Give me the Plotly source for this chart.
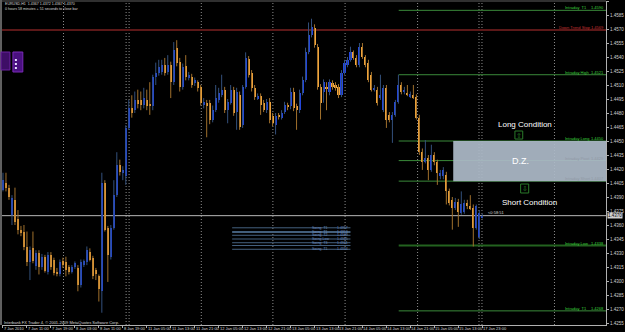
import plotly.graph_objects as go

# ---------------- data (EURUSD, H1) ----------------
open_ = [1.4398,1.4405,1.4400,1.4371,1.4387,1.4366,1.4355,1.4352,1.4336,1.4320,
         1.4335,1.4316,1.4330,1.4315,1.4326,1.4310,1.4328,1.4322,1.4310,1.4307,
         1.4321,1.4320,1.4315,1.4310,1.4315,1.4314,1.4296,1.4317,1.4320,1.4331,
         1.4325,1.4312,1.4305,1.4289,1.4405,1.4357,1.4326,1.4357,1.4392,1.4424,
         1.4416,1.4412,1.4464,1.4485,1.4483,1.4494,1.4494,1.4489,1.4494,1.4490,
         1.4487,1.4519,1.4523,1.4524,1.4531,1.4524,1.4531,1.4513,1.4550,1.4535,
         1.4508,1.4530,1.4518,1.4519,1.4512,1.4513,1.4508,1.4489,1.4491,1.4491,
         1.4473,1.4483,1.4494,1.4499,1.4505,1.4483,1.4491,1.4505,1.4481,1.4499,
         1.4467,1.4508,1.4538,1.4523,1.4507,1.4496,1.4498,1.4491,1.4483,1.4492,
         1.4477,1.4467,1.4477,1.4475,1.4481,1.4488,1.4487,1.4503,1.4487,1.4483,
         1.4501,1.4515,1.4545,1.4564,1.4571,1.4551,1.4508,1.4503,1.4508,1.4503,
         1.4512,1.4510,1.4508,1.4499,1.4523,1.4531,1.4537,1.4545,1.4539,1.4531,
         1.4551,1.4540,1.4534,1.4521,1.4505,1.4505,1.4496,1.4483,1.4507,1.4478,
         1.4473,1.4478,1.4492,1.4510,1.4503,1.4501,1.4498,1.4499,1.4497,1.4475,
         1.4438,1.4428,1.4432,1.4419,1.4435,1.4428,1.4412,1.4412,1.4414,1.4396,
         1.4387,1.4378,1.4385,1.4373,1.4374,1.4384,1.4380,1.4378,1.4357,1.4347,
         1.4367]
high = [1.4416,1.4416,1.4403,1.4392,1.4400,1.4376,1.4359,1.4360,1.4353,1.4337,
        1.4353,1.4333,1.4333,1.4329,1.4328,1.4331,1.4331,1.4325,1.4314,1.4323,
        1.4325,1.4326,1.4317,1.4317,1.4321,1.4317,1.4323,1.4323,1.4337,1.4335,
        1.4327,1.4314,1.4307,1.4416,1.4408,1.4359,1.4360,1.4408,1.4438,1.4430,
        1.4423,1.4467,1.4494,1.4499,1.4503,1.4505,1.4503,1.4507,1.4505,1.4513,
        1.4521,1.4534,1.4537,1.4537,1.4539,1.4542,1.4535,1.4556,1.4558,1.4539,
        1.4533,1.4542,1.4524,1.4522,1.4518,1.4515,1.4510,1.4496,1.4494,1.4494,
        1.4488,1.4510,1.4507,1.4521,1.4508,1.4495,1.4510,1.4508,1.4507,1.4503,
        1.4510,1.4545,1.4541,1.4526,1.4510,1.4501,1.4501,1.4494,1.4495,1.4496,
        1.4480,1.4480,1.4480,1.4483,1.4492,1.4491,1.4507,1.4507,1.4490,1.4505,
        1.4519,1.4550,1.4577,1.4581,1.4575,1.4554,1.4511,1.4516,1.4513,1.4516,
        1.4515,1.4513,1.4511,1.4526,1.4537,1.4540,1.4551,1.4547,1.4542,1.4555,
        1.4555,1.4542,1.4537,1.4524,1.4510,1.4508,1.4521,1.4510,1.4510,1.4481,
        1.4481,1.4494,1.4521,1.4513,1.4508,1.4510,1.4503,1.4510,1.4500,1.4478,
        1.4442,1.4451,1.4435,1.4446,1.4438,1.4430,1.4419,1.4422,1.4417,1.4399,
        1.4390,1.4389,1.4388,1.4396,1.4387,1.4387,1.4392,1.4382,1.4382,1.4376,
        1.4372]
low = [1.4396,1.4396,1.4387,1.4360,1.4360,1.4350,1.4348,1.4333,1.4316,1.4301,
       1.4319,1.4312,1.4307,1.4312,1.4309,1.4307,1.4312,1.4306,1.4305,1.4305,
       1.4314,1.4305,1.4307,1.4308,1.4313,1.4289,1.4293,1.4315,1.4317,1.4321,
       1.4302,1.4301,1.4278,1.4266,1.4353,1.4299,1.4323,1.4355,1.4390,1.4413,
       1.4408,1.4403,1.4462,1.4475,1.4480,1.4485,1.4483,1.4485,1.4483,1.4478,
       1.4483,1.4510,1.4520,1.4521,1.4520,1.4521,1.4496,1.4510,1.4530,1.4503,
       1.4505,1.4515,1.4515,1.4507,1.4509,1.4503,1.4488,1.4485,1.4454,1.4468,
       1.4470,1.4481,1.4491,1.4497,1.4480,1.4469,1.4489,1.4477,1.4462,1.4462,
       1.4464,1.4506,1.4518,1.4503,1.4494,1.4494,1.4478,1.4481,1.4480,1.4469,
       1.4466,1.4457,1.4473,1.4473,1.4479,1.4483,1.4484,1.4482,1.4462,1.4480,
       1.4499,1.4513,1.4543,1.4561,1.4550,1.4505,1.4473,1.4491,1.4483,1.4499,
       1.4505,1.4504,1.4496,1.4497,1.4521,1.4529,1.4535,1.4537,1.4529,1.4529,
       1.4538,1.4529,1.4513,1.4503,1.4503,1.4488,1.4494,1.4481,1.4464,1.4470,
       1.4448,1.4476,1.4490,1.4500,1.4500,1.4498,1.4496,1.4495,1.4473,1.4435,
       1.4419,1.4426,1.4408,1.4417,1.4424,1.4403,1.4409,1.4409,1.4382,1.4381,
       1.4355,1.4376,1.4358,1.4371,1.4372,1.4377,1.4376,1.4337,1.4355,1.4345,
       1.4367]
close = [1.4408,1.4400,1.4390,1.4389,1.4363,1.4355,1.4351,1.4336,1.4320,1.4333,
         1.4321,1.4330,1.4315,1.4326,1.4311,1.4328,1.4315,1.4309,1.4307,1.4320,
         1.4317,1.4312,1.4310,1.4315,1.4319,1.4296,1.4320,1.4321,1.4333,1.4323,
         1.4305,1.4307,1.4291,1.4405,1.4355,1.4328,1.4357,1.4392,1.4424,1.4417,
         1.4419,1.4464,1.4485,1.4480,1.4494,1.4490,1.4489,1.4496,1.4488,1.4487,
         1.4519,1.4523,1.4529,1.4531,1.4523,1.4531,1.4513,1.4547,1.4534,1.4508,
         1.4529,1.4519,1.4521,1.4510,1.4515,1.4507,1.4491,1.4492,1.4487,1.4473,
         1.4483,1.4496,1.4501,1.4505,1.4483,1.4492,1.4505,1.4480,1.4503,1.4465,
         1.4508,1.4539,1.4521,1.4507,1.4497,1.4498,1.4489,1.4483,1.4492,1.4473,
         1.4469,1.4477,1.4476,1.4480,1.4489,1.4487,1.4503,1.4485,1.4483,1.4501,
         1.4515,1.4545,1.4564,1.4572,1.4553,1.4508,1.4491,1.4513,1.4506,1.4513,
         1.4508,1.4507,1.4499,1.4523,1.4534,1.4537,1.4545,1.4539,1.4531,1.4551,
         1.4540,1.4531,1.4515,1.4505,1.4507,1.4491,1.4499,1.4507,1.4473,1.4473,
         1.4478,1.4492,1.4510,1.4503,1.4505,1.4500,1.4500,1.4497,1.4475,1.4438,
         1.4428,1.4432,1.4419,1.4435,1.4427,1.4416,1.4416,1.4419,1.4396,1.4384,
         1.4378,1.4385,1.4374,1.4382,1.4384,1.4380,1.4378,1.4357,1.4380,1.4373,
         1.4370]

time_labels = ["7 Jan 2010", "7 Jan 11:00", "7 Jan 19:00", "8 Jan 03:00", "8 Jan 11:00",
               "8 Jan 19:00", "11 Jan 05:00", "11 Jan 13:00", "11 Jan 21:00", "12 Jan 05:00",
               "12 Jan 13:00", "12 Jan 21:00", "13 Jan 05:00", "13 Jan 13:00", "13 Jan 21:00",
               "14 Jan 05:00", "14 Jan 13:00", "14 Jan 21:00", "15 Jan 05:00", "15 Jan 13:00",
               "17 Jan 23:00"]
time_label_bars = [8 * k for k in range(len(time_labels))]

price_ticks = [round(1.4255 + 0.0015 * k, 4) for k in range(24)]

level_names = ["Intraday  T1", "Down Trend Stop", "Intraday High", "Intraday Long",
               "Intraday Pivot", "Intraday Short", "Intraday Low", "Intraday  T1"]
level_values = [1.4590, 1.4569, 1.4521, 1.4450, 1.4429, 1.4407, 1.4338, 1.4268]

swing_names = ["Swing  T1", "Swing  T1", "Swing  T2", "Swing Low", "Swing  T3", "Swing  T1"]
swing_values = [1.4357, 1.4353, 1.4349, 1.4345, 1.4341, 1.4334]
swing_lines = [1.4357, 1.4353, 1.4352, 1.4349, 1.4345, 1.4341, 1.4338, 1.4334]

day_separators = [20.2, 41.1, 42.1, 66.2, 90.1, 114.2, 138.4, 158.9, 159.9, 184.1]

# ---------------- geometry ----------------
W, H = 625, 332
ML, MR, MT, MB = 2, 14, 1, 7
PW, PH = W - ML - MR, H - MT - MB
XMIN, XMAX = -0.33, 201.3
YMAX = 1.4600
YMIN = 1.4600 - 324 * 0.0015 / 14

def xp(px):
    return (px - ML) / PW

def yp(py):
    return 1 - (py - MT) / PH

UP_BODY, DN_BODY = "#2346e0", "#f2a53c"
UP_WICK, DN_WICK = "#33507c", "#a0702c"
GREEN = "#3a8a3a"
TXT = "#d8d8d8"
FONT = "Liberation Sans, Arial, sans-serif"

n = len(close)
idx = list(range(n))
up = [i for i in idx if close[i] >= open_[i]]
dn = [i for i in idx if close[i] < open_[i]]

fig = go.Figure()

def wick_trace(ids, color):
    xs, ys = [], []
    for i in ids:
        xs += [i, i, None]
        ys += [low[i], high[i], None]
    return go.Scatter(x=xs, y=ys, mode="lines", line=dict(color=color, width=1),
                      hoverinfo="skip", showlegend=False)

fig.add_trace(wick_trace(up, UP_WICK))
fig.add_trace(wick_trace(dn, DN_WICK))

def body_trace(ids, color):
    return go.Bar(x=ids,
                  y=[max(abs(close[i] - open_[i]), 0.00007) for i in ids],
                  base=[min(open_[i], close[i]) for i in ids],
                  width=0.68, marker=dict(color=color, line=dict(width=0)),
                  showlegend=False, hoverinfo="skip")

fig.add_trace(body_trace(up, UP_BODY))
fig.add_trace(body_trace(dn, DN_BODY))

shapes = []
for s in day_separators:
    shapes.append(dict(type="line", xref="x", yref="paper", x0=s, x1=s, y0=0, y1=1,
                       line=dict(color="#8c8c8c", width=1, dash="1px,2px"), layer="below"))

start_bar = 132.1
for name, v in zip(level_names, level_values):
    if name == "Down Trend Stop":
        shapes.append(dict(type="line", xref="x", yref="y", x0=XMIN, x1=XMAX, y0=v, y1=v,
                           line=dict(color="#5c1818", width=2), layer="below"))
    elif name == "Intraday Low":
        shapes.append(dict(type="line", xref="x", yref="y", x0=start_bar, x1=XMAX, y0=v, y1=v,
                           line=dict(color="#23621f", width=2), layer="below"))
    else:
        shapes.append(dict(type="line", xref="x", yref="y", x0=start_bar, x1=XMAX, y0=v, y1=v,
                           line=dict(color=GREEN, width=1), layer="below"))

shapes.append(dict(type="rect", xref="x", yref="y", x0=150.3, x1=XMAX,
                   y0=level_values[5], y1=level_values[3],
                   fillcolor="rgba(172,185,199,0.93)", line=dict(width=0), layer="above"))

shapes.append(dict(type="line", xref="x", yref="y", x0=XMIN, x1=XMAX, y0=close[-1], y1=close[-1],
                   line=dict(color="#b8b8b8", width=1), layer="below"))

for v in swing_lines:
    shapes.append(dict(type="line", xref="x", yref="y", x0=76.5, x1=116, y0=v, y1=v,
                       line=dict(color="#45617f", width=1), layer="below"))

shapes.append(dict(type="rect", xref="x", yref="y", x0=170.9, x1=173.5, y0=1.44521, y1=1.44607,
                   line=dict(color="#2a7a2a", width=1)))
shapes.append(dict(type="rect", xref="x", yref="y", x0=172.8, x1=175.5, y0=1.43943, y1=1.44039,
                   line=dict(color="#2a7a2a", width=1)))

shapes.append(dict(type="line", xref="paper", yref="paper", x0=xp(1), x1=xp(1), y0=0, y1=yp(0),
                   line=dict(color="#606060", width=2)))
shapes.append(dict(type="line", xref="paper", yref="paper", x0=xp(0), x1=1, y0=yp(1), y1=yp(1),
                   line=dict(color="#606060", width=1)))

shapes.append(dict(type="rect", xref="paper", yref="paper", x0=xp(1), x1=xp(10), y0=yp(70), y1=yp(52),
                   fillcolor="#3e0e66", line=dict(color="#6a20a0", width=1)))
shapes.append(dict(type="rect", xref="paper", yref="paper", x0=xp(13), x1=xp(23), y0=yp(72), y1=yp(52),
                   fillcolor="#4a1080", line=dict(color="#7a2ab8", width=1)))
for py in (60, 64, 68):
    shapes.append(dict(type="rect", xref="paper", yref="paper", x0=xp(15), x1=xp(17),
                       y0=yp(py + 1), y1=yp(py - 1), fillcolor="#e8e0ff", line=dict(width=0)))

ann = []
def A(text, x, y, xref="x", yref="y", size=5, color=TXT, xanchor="left", yanchor="middle", **kw):
    d = dict(text=text, x=x, y=y, xref=xref, yref=yref, showarrow=False,
             font=dict(family=FONT, size=size, color=color), xanchor=xanchor, yanchor=yanchor)
    d.update(kw)
    ann.append(d)

for b, t in zip(time_label_bars, time_labels):
    A(t, b, 0, yref="paper", yanchor="top", size=4, xshift=-1, yshift=1)

for name, v in zip(level_names, level_values):
    if name == "Down Trend Stop":
        A("Down Trend Stop %.4f" % v, 1, v, xref="paper", xanchor="right", yanchor="bottom",
          color="#c83030", size=4, yshift=-2)
    else:
        col = "#909aa6" if name in ("Intraday Pivot", "Intraday Short") else "#3cd23c"
        A(name, 187.0, v, yanchor="bottom", color=col, size=4, yshift=-2)
        A("%.4f" % v, 1, v, xref="paper", xanchor="right", yanchor="bottom", color=col, size=4, yshift=-2)

for name, v in zip(swing_names, swing_values):
    A(name, 102.6, v, color="#6a8cc0", yanchor="middle", size=3.5)
    A("%.4f" % v, 115.8, v, color="#6a8cc0", xanchor="right", yanchor="middle", size=3.5)

A("EURUSD,H1  %.4f %.4f %.4f %.4f" % (open_[-1], high[-1], low[-1], close[-1]),
  xp(3), yp(4.2), xref="paper", yref="paper", size=3.6)
A("0 hours 58 minutes + 51 seconds to close bar", xp(3), yp(8.8), xref="paper", yref="paper", size=3.6)
A("Interbank FX Trader 4, \u00a9 2001-2009 MetaQuotes Software Corp.", xp(2), yp(322),
  xref="paper", yref="paper", size=4)

A("Long Condition", 174.2, 1.44682, xanchor="center", size=8, color="#ffffff")
A("D.Z.", 172.8, 1.44286, xanchor="center", size=9, color="#ffffff")
A("Short Condition", 175.8, 1.43846, xanchor="center", size=8, color="#ffffff")
A("\u21e7", 172.2, 1.44564, xanchor="center", size=7, color="#2a8a2a")
A("\u21e9", 174.15, 1.43991, xanchor="center", size=7, color="#2a8a2a")

A("<0:58:51", 161.3, close[-1], yanchor="bottom", size=4, yshift=-1)

A("%.4f" % close[-1], 1, close[-1], xref="paper", xanchor="left", size=4.5, color="#000000",
  bgcolor="#d0d0d0", borderpad=0, xshift=1)

fig.update_layout(
    width=W, height=H,
    margin=dict(l=ML, r=MR, t=MT, b=MB, pad=0),
    paper_bgcolor="#000000", plot_bgcolor="#000000",
    barmode="overlay", bargap=0,
    showlegend=False,
    shapes=shapes, annotations=ann,
    font=dict(family=FONT, size=5, color=TXT),
    xaxis=dict(range=[XMIN, XMAX], showgrid=False, zeroline=False,
               showline=True, linecolor="#b0b0b0", linewidth=1,
               tickmode="array", tickvals=time_label_bars, ticktext=[""] * len(time_label_bars),
               ticks="outside", ticklen=2, tickcolor="#b0b0b0", showticklabels=False,
               fixedrange=True),
    yaxis=dict(range=[YMIN, YMAX], side="right", showgrid=False, zeroline=False,
               showline=True, linecolor="#b0b0b0", linewidth=1,
               tickmode="array", tickvals=price_ticks,
               ticktext=["%.4f" % p for p in price_ticks],
               ticks="outside", ticklen=2, tickcolor="#b0b0b0",
               tickfont=dict(family=FONT, size=4.5, color="#d0d0d0"),
               fixedrange=True),
)

fig.write_html("out.html")
